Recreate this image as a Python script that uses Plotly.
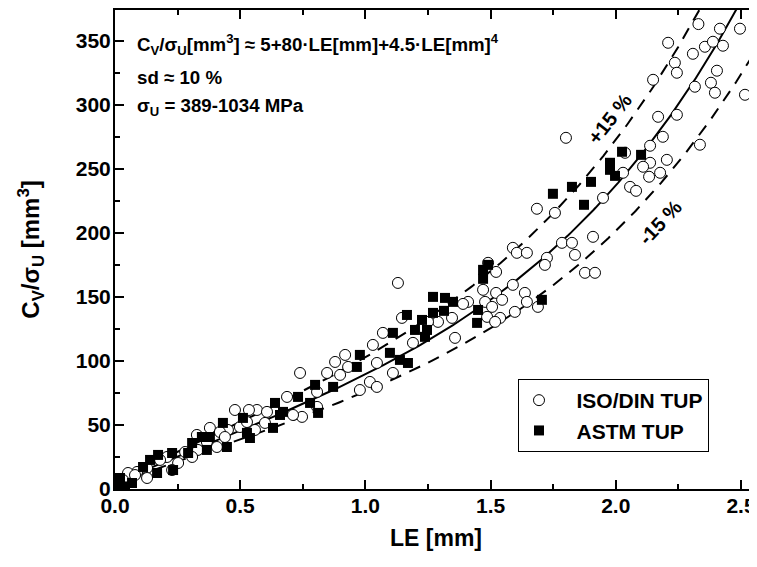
import numpy as np
import plotly.graph_objects as go

# ISO/DIN TUP (open circles)
iso_x = [2.33, 2.416, 2.496, 2.209, 2.356, 2.388, 2.428, 2.308, 2.236, 2.244, 2.404, 2.149, 2.380,
         2.316, 2.396, 2.516, 2.169, 2.244, 1.801, 2.188, 2.137, 2.336, 2.037, 2.204, 2.137, 2.109,
         2.177, 2.133, 2.029, 2.057, 2.081, 1.949, 1.785, 1.825, 1.837, 1.909, 1.877, 1.917,
         1.685, 1.757, 1.725, 1.717, 1.589, 1.605, 1.645, 1.490, 1.522, 1.589, 1.470, 1.522, 1.410,
         1.546, 1.637, 1.645, 1.689, 1.478, 1.506, 1.597, 1.486, 1.538, 1.518, 1.390, 1.346, 1.290,
         1.250, 1.358,
         1.146, 1.070, 1.190, 0.919, 0.879, 0.847, 0.899, 0.931, 1.030, 1.046, 1.018, 1.046, 0.978,
         1.110, 0.739, 0.807, 0.807, 0.687, 0.747, 0.711, 0.599, 0.567, 0.535, 0.479, 0.499, 0.451,
         0.379, 0.327, 0.407, 0.331, 0.280, 0.308, 0.252, 0.208, 0.180, 0.128, 0.088, 0.052,
         0.080, 0.128, 0.228, 0.367, 0.419, 0.439, 0.527, 0.559, 0.607, 0.032, 1.130]
iso_y = [363, 359.4, 359.4, 348.4, 345.3, 349.2, 346.1, 339.8, 332.8, 325, 326.6, 319.5, 317.2,
         314.1, 309.4, 307.8, 290.6, 292.2, 274.2, 275, 268, 268.8, 262.5, 257, 254.7, 251.6,
         246.9, 243.8, 246.9, 235.9, 232.8, 227.3, 192.2, 192.2, 182.8, 196.9, 168.8, 168.8,
         218.8, 215.6, 180.5, 175, 188.3, 184.4, 184.4, 176.6, 169.5, 159.4, 155.5, 153.1, 146.1,
         147.7, 153.1, 146.1, 142.2, 146.1, 142.2, 138.3, 134.4, 133.6, 130.5, 144.5, 133.6, 130.5,
         130.5, 118,
         133.6, 121.9, 114.1, 104.7, 99.2, 90.6, 89.1, 95.3, 112.5, 98.4, 83.6, 79.7, 77.3,
         90.6, 90.6, 75.8, 64.1, 71.9, 56.3, 57.8, 51.6, 61.7, 61.7, 61.7, 48.4, 46.1,
         47.7, 42.2, 32.8, 30.5, 28.9, 25, 20.3, 25, 22.7, 16.4, 13.3, 12.5,
         10.9, 8.6, 14.8, 36.7, 44.5, 40.6, 52.3, 46.1, 60.2, 7.0, 160.9]

# ASTM TUP (filled squares)
astm_x = [2.025, 2.101, 1.977, 1.977, 1.997, 1.901, 1.825, 1.873,
          1.749, 1.470, 1.490, 1.470, 1.270, 1.318, 1.350, 1.314, 1.270, 1.450, 1.446, 1.705,
          1.246, 1.238, 1.226,
          1.166, 1.198, 1.110, 1.098, 1.138, 1.170, 0.978, 0.966, 0.871, 0.799, 0.731, 0.779,
          0.811, 0.639, 0.659, 0.631, 0.539, 0.511, 0.431, 0.447, 0.379, 0.308, 0.292, 0.228,
          0.232, 0.172, 0.140, 0.112, 0.168, 0.020,
          0.068, 0.347, 0.367, 0.527, 0.671, 0.010, 0.040]
astm_y = [263.3, 260.9, 254.7, 249.2, 244.5, 239.8, 235.9, 221.9,
          230.5, 171.1, 175, 164.1, 150, 149.2, 146.1, 139.1, 137.5, 139.8, 129.7, 147.7,
          124.2, 118.8, 132,
          135.9, 124.2, 121.9, 106.3, 100.8, 98.4, 104.7, 95.3, 79.7, 81.3, 71.9, 67.2,
          59.4, 67.2, 57.8, 47.7, 39.8, 55.5, 51.6, 32.8, 40.6, 35.9, 28.1, 28.1,
          14.8, 26.6, 22.7, 17.2, 12.5, 8.6,
          4.7, 40.6, 30.5, 43.8, 60.2, 3.0, 2.0]

legend_names = ["ISO/DIN TUP", "ASTM TUP"]

# fit: Cv/sigma_U = 5 + 80*LE + 4.5*LE^4, +/-15 %
fit_c0, fit_c1, fit_c4 = 5.0, 80.0, 4.5
band = 0.15
le_grid = np.linspace(0, 2.6, 261)
fit = fit_c0 + fit_c1 * le_grid + fit_c4 * le_grid ** 4

FONT = "Liberation Sans, Arial, sans-serif"
GAP = "\u00a0\u00a0\u00a0"

fig = go.Figure()
fig.add_trace(go.Scatter(x=le_grid, y=fit, mode="lines", line=dict(color="black", width=2),
                         showlegend=False, hoverinfo="skip"))
fig.add_trace(go.Scatter(x=le_grid, y=fit * (1 + band), mode="lines",
                         line=dict(color="black", width=2, dash="12px,9px"),
                         showlegend=False, hoverinfo="skip"))
fig.add_trace(go.Scatter(x=le_grid, y=fit * (1 - band), mode="lines",
                         line=dict(color="black", width=2, dash="12px,9px"),
                         showlegend=False, hoverinfo="skip"))
fig.add_trace(go.Scatter(x=iso_x, y=iso_y, mode="markers", name=GAP + legend_names[0],
                         marker=dict(symbol="circle", size=11, color="white",
                                     line=dict(color="black", width=1))))
fig.add_trace(go.Scatter(x=astm_x, y=astm_y, mode="markers", name=GAP + legend_names[1],
                         marker=dict(symbol="square", size=10, color="black",
                                     line=dict(color="black", width=0))))

axis_common = dict(showline=True, linecolor="black", linewidth=2, ticks="inside",
                   ticklen=9, tickwidth=2, tickcolor="black", showgrid=False, zeroline=False,
                   tickfont=dict(family=FONT, size=21, color="black", weight="bold"))

fig.update_xaxes(range=[0, 2.564], dtick=0.5, tick0=0, tickformat=".1f", mirror="ticks",
                 ticklabelstandoff=-3,
                 minor=dict(dtick=0.25, ticks="inside", ticklen=5, tickwidth=2, tickcolor="black"),
                 title=dict(text="LE [mm]", font=dict(family=FONT, size=23, color="black", weight="bold"),
                            standoff=14),
                 **axis_common)
fig.update_yaxes(range=[0, 374], dtick=50, tick0=0, mirror=False,
                 ticklabelstandoff=-2,
                 minor=dict(dtick=25, ticks="inside", ticklen=5, tickwidth=2, tickcolor="black"),
                 title=dict(text="C<sub>V</sub>/σ<sub>U</sub> [mm<sup>3</sup>]",
                            font=dict(family=FONT, size=24, color="black", weight="bold"),
                            standoff=29),
                 **axis_common)

ann_font = dict(family=FONT, size=18.7, color="black", weight="bold")
fig.add_annotation(xref="paper", yref="paper", x=0.031, y=(481 - 37) / 479, xanchor="left",
                   yanchor="middle", showarrow=False, font=ann_font,
                   text="C<sub>V</sub>/σ<sub>U</sub>[mm<sup>3</sup>] ≈ 5+80·LE[mm]+4.5·LE[mm]<sup>4</sup>")
fig.add_annotation(xref="paper", yref="paper", x=0.031, y=(481 - 69) / 479, xanchor="left",
                   yanchor="middle", showarrow=False, font=ann_font, text="sd ≈ 10 %")
fig.add_annotation(xref="paper", yref="paper", x=0.031, y=(481 - 99) / 479, xanchor="left",
                   yanchor="middle", showarrow=False, font=ann_font,
                   text="σ<sub>U</sub> = 389-1034 MPa")
band_font = dict(family=FONT, size=20, color="black", weight="bold")
fig.add_annotation(x=1.975, y=289, showarrow=False, textangle=-52, font=band_font, text="+15 %")
fig.add_annotation(x=2.175, y=208, showarrow=False, textangle=-47, font=band_font, text="-15 %")

# page body adds an 8 px offset, so the figure is sized to the window minus that offset
fig.update_layout(
    width=749, height=559,
    margin=dict(l=107, r=0, t=2, b=78),
    paper_bgcolor="white", plot_bgcolor="white",
    showlegend=True,
    legend=dict(x=(510 - 107) / 642, y=(481 - 371) / 479, xanchor="left", yanchor="top",
                bordercolor="black", borderwidth=1, bgcolor="white",
                font=dict(family=FONT, size=21, color="black", weight="bold"),
                itemwidth=30, tracegroupgap=0),
)

fig.write_html("out.html")
